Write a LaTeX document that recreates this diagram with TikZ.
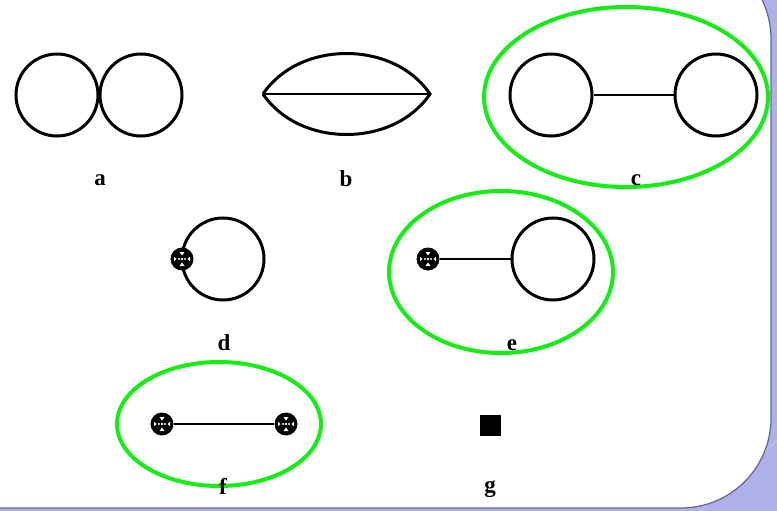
\documentclass[tikz,border=0pt]{standalone}
\usepackage{fontspec}
\setmainfont{Liberation Serif}
\usetikzlibrary{calc}
\begin{document}
\begin{tikzpicture}[x=1pt,y=-1pt,
  ring/.style={circle,draw=black,line width=3pt,minimum size=82pt,inner sep=0pt},
  edge/.style={line width=2pt},
  halo/.style={draw=hgreen,line width=4pt},
  lbl/.style={font=\fontsize{23}{25}\selectfont\bfseries,anchor=base,inner sep=0pt},
  vtx/.style={circle,fill=black,minimum size=23pt,inner sep=0pt}]
\definecolor{hgreen}{RGB}{20,238,20}
\definecolor{lav}{RGB}{176,176,232}
\definecolor{lavedge}{RGB}{100,100,150}
\useasboundingbox (0,0) rectangle (777,511);
\fill[lav] (0,0) rectangle (777,511);
\draw[lav!70!white,line width=0.6pt] (700,511) -- (777,440);
\filldraw[fill=white,draw=lavedge,line width=1.2pt,rounded corners=90pt] (-100,-51) rectangle (771,508);
% a
\node[ring] (a1) at (57,95) {};
\node[ring] (a2) at (141,95) {};
\node[lbl] (la) at (100,185) {a};
% b
\coordinate (bl) at (263,94);
\coordinate (br) at (430,94);
\draw[line width=3pt,line join=miter] (bl) to[bend left=56] (br) to[bend left=56] (bl);
\draw[edge] (bl) -- (br);
\node[lbl] (lb) at (346,186) {b};
% c
\draw[halo] (626,97) ellipse [x radius=142, y radius=90];
\node[ring] (c1) at (551,95) {};
\node[ring] (c2) at (716,95) {};
\draw[edge] (c1) -- (c2);
\node[lbl] (lc) at (636,185) {c};
% d
\node[ring] (d1) at (223,259) {};
\node[vtx] (dv) at (182,259) {};
\node[lbl] (ld) at (224,350) {d};
% e
\draw[halo] (501,272) ellipse [x radius=112, y radius=81];
\node[vtx] (ev) at (428,259) {};
\node[ring] (e1) at (553,259) {};
\draw[edge] (ev) -- (e1);
\node[lbl] (le) at (512,350) {e};
% f
\draw[halo] (219,424) ellipse [x radius=102, y radius=62];
\node[vtx] (fv1) at (162,424) {};
\node[vtx] (fv2) at (286,424) {};
\draw[edge] (fv1) -- (fv2);
\node[lbl] (lf) at (223,494) {f};
% g
\node[fill=black,minimum size=21pt,inner sep=0pt] (gsq) at (490,425) {};
\node[lbl] (lg) at (490,492) {g};
% marks inside vertices
\foreach \v in {dv,ev,fv1,fv2}{
  \fill[white] (\v) circle (1.4pt);
  \fill[white] ($(\v)+(-3,0)$) circle (1.1pt);
  \fill[white] ($(\v)+(3,0)$) circle (1.1pt);
  \fill[white] ($(\v)+(0,-3.5)$) -- ++(-2.5,-3.5) -- ++(5,0) -- cycle;
  \fill[white] ($(\v)+(0,3.5)$) -- ++(-2.5,3.5) -- ++(5,0) -- cycle;
  \fill[white] ($(\v)+(-5.5,0)$) -- ++(-2.5,-2.2) -- ++(0,4.4) -- cycle;
  \fill[white] ($(\v)+(5.5,0)$) -- ++(2.5,-2.2) -- ++(0,4.4) -- cycle;
}
\end{tikzpicture}
\end{document}
